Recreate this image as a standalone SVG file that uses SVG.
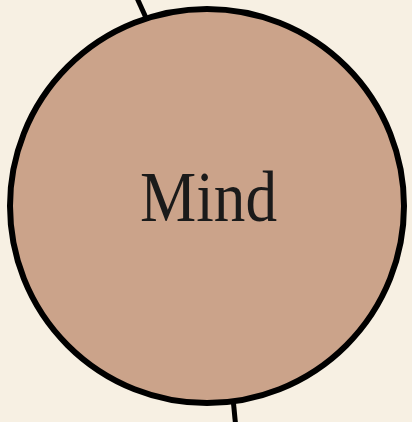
<svg xmlns="http://www.w3.org/2000/svg" width="412" height="422" viewBox="0 0 412 422">
<style>
.edge{stroke:#000;stroke-width:5;fill:none}
.node{fill:#CBA38A;stroke:#000;stroke-width:6}
.label{font-family:"Liberation Serif","DejaVu Serif",serif;font-size:72px;fill:#1a1a1a}
</style>
<rect width="412" height="422" fill="#F7F0E3"/>
<g id="connectors">
<line class="edge" x1="137" y1="-2" x2="147" y2="20"/>
<line class="edge" x1="233" y1="398" x2="235.5" y2="424"/>
</g>
<g id="mind">
<circle class="node" cx="207" cy="206" r="197"/>
<text class="label" x="208.5" y="221" text-anchor="middle" textLength="137" lengthAdjust="spacingAndGlyphs">Mind</text>
</g>
</svg>
